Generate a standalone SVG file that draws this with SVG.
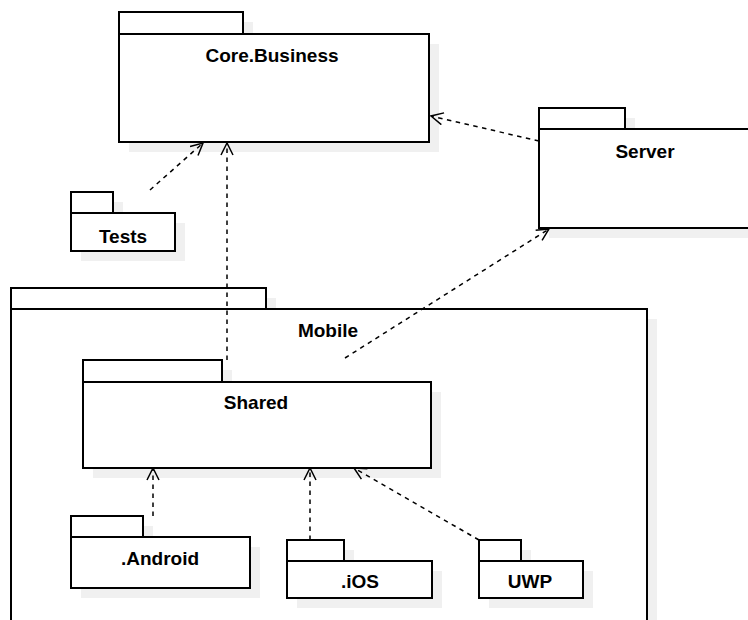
<svg xmlns="http://www.w3.org/2000/svg" width="748" height="620" viewBox="0 0 748 620">
<style>
.b{fill:#fff;stroke:#000;stroke-width:2}
.s{fill:#f0f0f0;stroke:none}
.t{font-family:"Liberation Sans",Arial,sans-serif;font-weight:bold;font-size:19px;fill:#000;text-anchor:middle}
.c{fill:none;stroke:#000;stroke-width:1.5;stroke-dasharray:4.5 4.5}
</style>
<defs>
<marker id="a" viewBox="0 0 14 14" refX="13" refY="7" markerWidth="14" markerHeight="14" markerUnits="userSpaceOnUse" orient="auto">
<path d="M1,1 L13,7 L1,13" fill="none" stroke="#000" stroke-width="1.5"/>
</marker>
</defs>
<rect width="748" height="620" fill="#fff"/>
<g id="mobile">
<path class="s" d="M21,298 H276 V319 H657 V700 H21 Z"/>
<rect class="b" x="11" y="288" width="255" height="21"/>
<rect class="b" x="11" y="309" width="636" height="400"/>
<text class="t" x="328" y="337">Mobile</text>
</g>
<g id="core">
<path class="s" d="M129,22 H253 V44 H439 V152 H129 Z"/>
<rect class="b" x="119" y="12" width="124" height="22"/>
<rect class="b" x="119" y="34" width="310" height="108"/>
<text class="t" x="272" y="62">Core.Business</text>
</g>
<g id="server">
<path class="s" d="M549,118 H635 V139 H760 V238 H549 Z"/>
<rect class="b" x="539" y="108" width="86" height="21"/>
<rect class="b" x="539" y="129" width="212" height="99"/>
<text class="t" x="645" y="158">Server</text>
</g>
<g id="tests">
<path class="s" d="M81,202 H123 V223 H185 V261 H81 Z"/>
<rect class="b" x="71" y="192" width="42" height="21"/>
<rect class="b" x="71" y="213" width="104" height="38"/>
<text class="t" x="123" y="243">Tests</text>
</g>
<g id="shared">
<path class="s" d="M93,370 H232 V392 H441 V478 H93 Z"/>
<rect class="b" x="83" y="360" width="139" height="22"/>
<rect class="b" x="83" y="382" width="348" height="86"/>
<text class="t" x="256" y="409">Shared</text>
</g>
<g id="android">
<path class="s" d="M81,526 H153 V547 H260 V598 H81 Z"/>
<rect class="b" x="71" y="516" width="72" height="21"/>
<rect class="b" x="71" y="537" width="179" height="51"/>
<text class="t" x="160" y="565">.Android</text>
</g>
<g id="ios">
<path class="s" d="M297,550 H354 V571 H442 V608 H297 Z"/>
<rect class="b" x="287" y="540" width="57" height="21"/>
<rect class="b" x="287" y="561" width="145" height="37"/>
<text class="t" x="360" y="588">.iOS</text>
</g>
<g id="uwp">
<path class="s" d="M489,550 H531 V571 H593 V608 H489 Z"/>
<rect class="b" x="479" y="540" width="42" height="21"/>
<rect class="b" x="479" y="561" width="104" height="37"/>
<text class="t" x="530" y="588">UWP</text>
</g>
<g id="connectors">
<line class="c" x1="150" y1="190" x2="203" y2="143" marker-end="url(#a)"/>
<line class="c" x1="227" y1="360" x2="227" y2="143" marker-end="url(#a)"/>
<line class="c" x1="539" y1="141" x2="431" y2="116" marker-end="url(#a)"/>
<line class="c" x1="345" y1="358" x2="549" y2="229" marker-end="url(#a)"/>
<line class="c" x1="153" y1="516" x2="153" y2="468" marker-end="url(#a)"/>
<line class="c" x1="310" y1="540" x2="310" y2="468" marker-end="url(#a)"/>
<line class="c" x1="479" y1="540" x2="354" y2="468" marker-end="url(#a)"/>
</g>
</svg>
